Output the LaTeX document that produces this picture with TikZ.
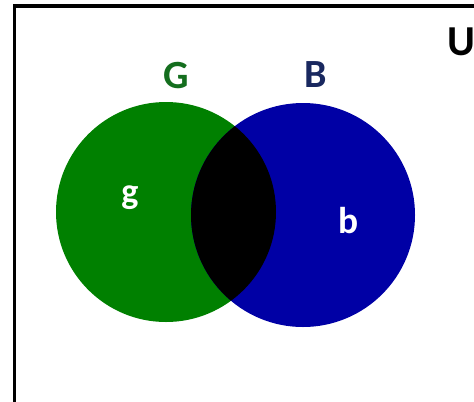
\documentclass[tikz,border=0pt]{standalone}
\usepackage{fontspec}
\setmainfont{Carlito}
\usepackage{tikz}
\usetikzlibrary{positioning}
\usepackage{xcolor}
\definecolor{setgreen}{RGB}{0,128,0}
\definecolor{setblue}{RGB}{0,0,165}
\definecolor{gtext}{RGB}{20,110,30}
\definecolor{btext}{RGB}{25,40,95}

\begin{document}
\begin{tikzpicture}[x=0.75pt, y=-0.75pt, every node/.style={font=\bfseries, inner sep=0pt}]
    \useasboundingbox (0,0) rectangle (474,401);
    % Universe frame
    \draw[line width=2.3pt] (14.5,6) rectangle (495,420);

    % The two sets
    \node[circle, fill=setgreen, minimum size=165pt] (Gset) at (166,212) {};
    \node[circle, fill=setblue, minimum size=168pt] (Bset) at (303,215) {};

    % Intersection
    \begin{scope}
        \clip (Gset.center) circle[radius=82.5pt];
        \fill[black] (Bset.center) circle[radius=84pt];
    \end{scope}

    % Labels
    \node[text=gtext, font=\bfseries\fontsize{30}{30}\selectfont] (Glab) at (176,75.5) {G};
    \node[text=btext, font=\bfseries\fontsize{30}{30}\selectfont] (Blab) at (316,74.5) {B};
    \node[font=\bfseries\fontsize{32}{32}\selectfont] (Ulab) at (461,41.5) {U};
    \node[text=white, font=\bfseries\fontsize{27}{27}\selectfont, anchor=base] (glab) at (130,203) {g};
    \node[text=white, font=\bfseries\fontsize{28}{28}\selectfont, anchor=base] (blab) at (349,233) {b};
\end{tikzpicture}
\end{document}
